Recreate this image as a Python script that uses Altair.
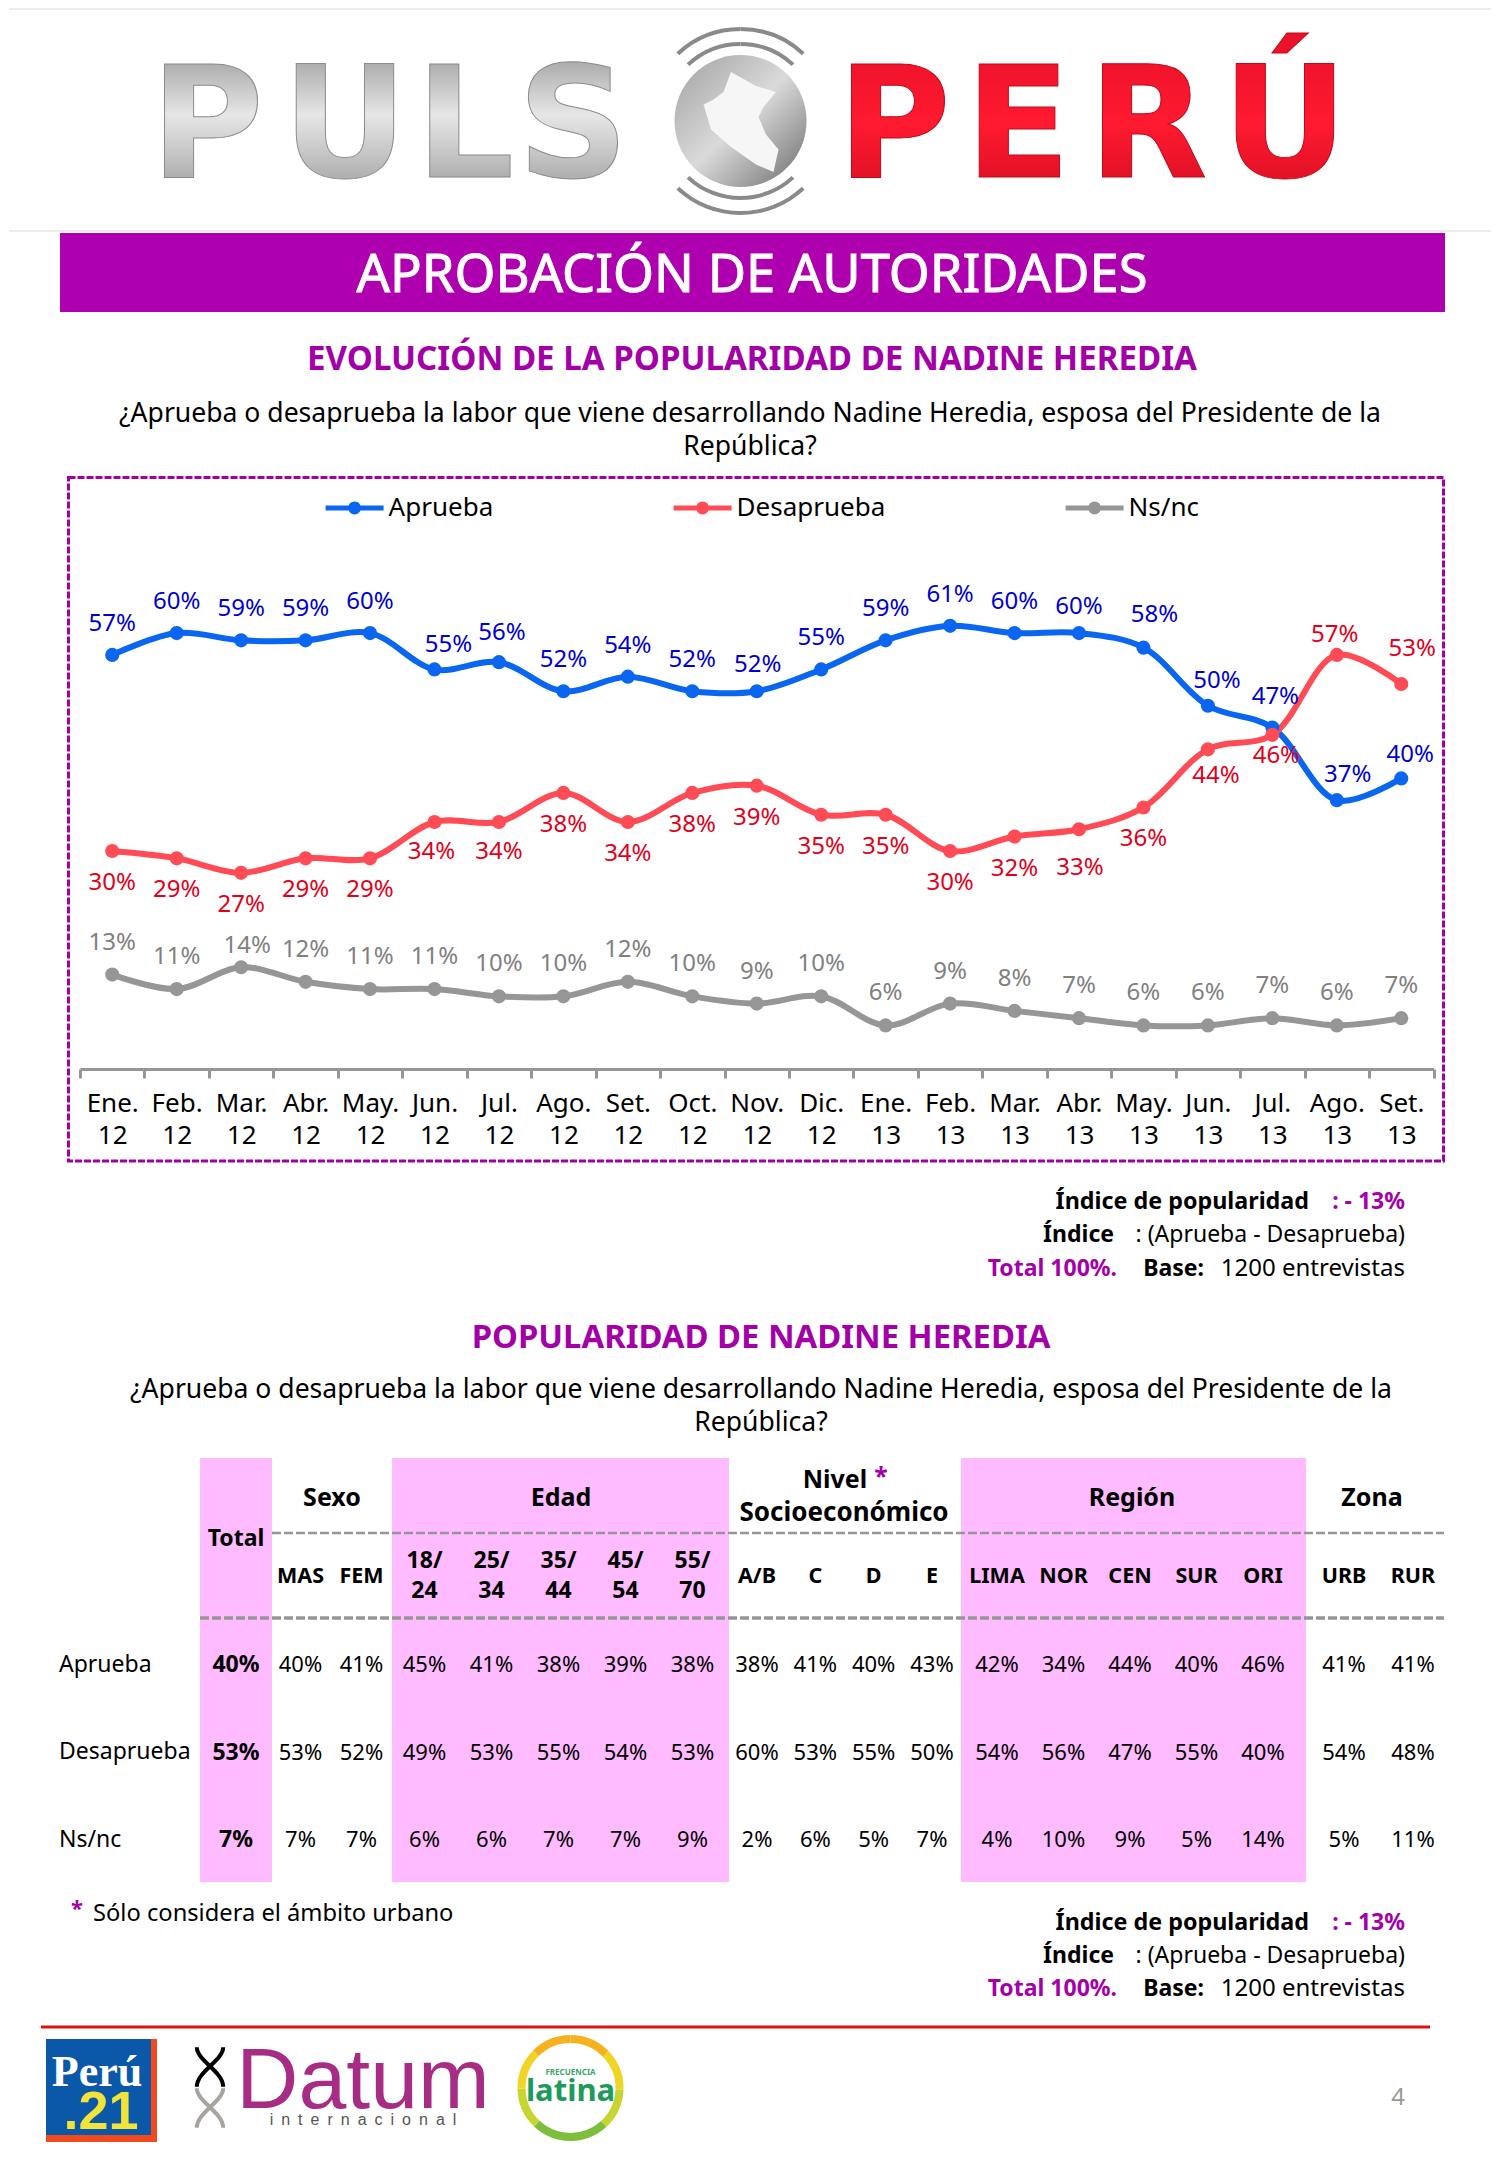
import altair as alt
import pandas as pd

FONT = "Noto Sans"
PURPLE = "#AE00AE"
TITLE_PURPLE = "#A400A8"
PINK = "#FFBBFF"
GREY = "#969696"

# ---- data -------------------------------------------------------------
MONTHS = ["Ene. 12", "Feb. 12", "Mar. 12", "Abr. 12", "May. 12", "Jun. 12", "Jul. 12",
          "Ago. 12", "Set. 12", "Oct. 12", "Nov. 12", "Dic. 12", "Ene. 13", "Feb. 13",
          "Mar. 13", "Abr. 13", "May. 13", "Jun. 13", "Jul. 13", "Ago. 13", "Set. 13"]
APRUEBA = [57, 60, 59, 59, 60, 55, 56, 52, 54, 52, 52, 55, 59, 61, 60, 60, 58, 50, 47, 37, 40]
DESAPRUEBA = [30, 29, 27, 29, 29, 34, 34, 38, 34, 38, 39, 35, 35, 30, 32, 33, 36, 44, 46, 57, 53]
NSNC = [13, 11, 14, 12, 11, 11, 10, 10, 12, 10, 9, 10, 6, 9, 8, 7, 6, 6, 7, 6, 7]

ROWS = ["Aprueba", "Desaprueba", "Ns/nc"]
TOTAL = {"Total": [40, 53, 7]}
SEXO = {"MAS": [40, 53, 7], "FEM": [41, 52, 7]}
EDAD = {"18/ 24": [45, 49, 6], "25/ 34": [41, 53, 6], "35/ 44": [38, 55, 7],
        "45/ 54": [39, 54, 7], "55/ 70": [38, 53, 9]}
NSE = {"A/B": [38, 60, 2], "C": [41, 53, 6], "D": [40, 55, 5], "E": [43, 50, 7]}
REGION = {"LIMA": [42, 54, 4], "NOR": [34, 56, 10], "CEN": [44, 47, 9],
          "SUR": [40, 55, 5], "ORI": [46, 40, 14]}
ZONA = {"URB": [41, 54, 5], "RUR": [41, 48, 11]}

# ---- label placement (separate from the values) ------------------------
SERIES_STYLE = {
    "Aprueba": dict(values=APRUEBA, line="#0A66F0", text="#0000D2", dy=-31,
                    nudge={5: (14, -24), 6: (3, -29), 10: (1, -26), 15: (0, -26), 16: (11, -33),
                           17: (9, -25), 18: (3, -31), 19: (11, -25), 20: (9, -23)}),
    "Desaprueba": dict(values=DESAPRUEBA, line="#FF4B55", text="#E2001A", dy=32,
                       nudge={5: (-3, 30), 6: (0, 30), 15: (1, 39), 17: (8, 27), 18: (4, 21),
                              19: (-2, -20), 20: (11, -35)}),
    "Ns/nc": dict(values=NSNC, line=GREY, text="#808080", dy=-32, nudge={2: (6, -21)}),
}

one = pd.DataFrame({"k": [0]})
OX, OY = 8, 8


def T(s, x, y, size=22, color="black", align="center", bold=False, font=FONT, fill=None, stroke=None):
    kw = dict(fontSize=size, align=align, baseline="middle", font=font,
              fontWeight="bold" if bold else "normal", color=fill if fill else color)
    if stroke:
        kw.update(stroke=stroke, strokeWidth=1)
    return alt.Chart(one).mark_text(**kw).encode(
        x=alt.value(x - OX), y=alt.value(y - OY), text=alt.value(s))


def R(x0, y0, x1, y1, fill):
    return alt.Chart(one).mark_rect(color=fill).encode(
        x=alt.value(x0 - OX), x2=alt.value(x1 - OX), y=alt.value(y0 - OY), y2=alt.value(y1 - OY))


def H(x0, x1, y, color, width=2, dash=None):
    kw = dict(color=color, strokeWidth=width)
    if dash:
        kw["strokeDash"] = dash
    return alt.Chart(one).mark_rule(**kw).encode(
        x=alt.value(x0 - OX), x2=alt.value(x1 - OX), y=alt.value(y - OY))


def P(path, x, y, span, fill=None, stroke=None, width=0):
    kw = dict(shape=path, size=span * span, opacity=1)
    if fill:
        kw.update(filled=True, color=fill)
    else:
        kw.update(filled=False, color=stroke, strokeWidth=width)
    return alt.Chart(one).mark_point(**kw).encode(x=alt.value(x - OX), y=alt.value(y - OY))


def A(x, y, r0, r1, t0, t1, color):
    return alt.Chart(one).mark_arc(radius=r1, radius2=r0, theta=t0, theta2=t1, color=color).encode(
        x=alt.value(x - OX), y=alt.value(y - OY))


TAU = 6.28318

# ---- page top ----------------------------------------------------------
silver = alt.LinearGradient(gradient="linear", x1=0, y1=0, x2=0, y2=1, stops=[
    alt.GradientStop(offset=0, color="#8C8C8C"), alt.GradientStop(offset=0.45, color="#E6E6E6"),
    alt.GradientStop(offset=0.6, color="#D0D0D0"), alt.GradientStop(offset=1, color="#8E8E8E")])
redg = alt.LinearGradient(gradient="linear", x1=0, y1=0, x2=0, y2=1, stops=[
    alt.GradientStop(offset=0, color="#E8102A"), alt.GradientStop(offset=0.5, color="#FF1A30"),
    alt.GradientStop(offset=1, color="#D00C20")])
sphere = alt.LinearGradient(gradient="linear", x1=0, y1=0, x2=1, y2=1, stops=[
    alt.GradientStop(offset=0, color="#A0A0A0"), alt.GradientStop(offset=0.5, color="#DADADA"),
    alt.GradientStop(offset=1, color="#6A6A6A")])
PERU = ("M-0.2,-1 L0.3,-0.72 L0.7,-0.6 L0.45,-0.3 L0.35,-0.1 L0.5,0.25 L0.75,0.55 L0.65,1 "
        "L0.3,0.85 L-0.2,0.5 L-0.6,0.15 L-0.75,-0.35 L-0.55,-0.45 L-0.35,-0.6 Z")
CIRCLE = "M1,0 A1,1 0 1,1 -1,0 A1,1 0 1,1 1,0 Z"

top_layers = [
    H(8, 1490, 9, "#E6E6E6", 1.5), H(8, 1490, 231, "#E6E6E6", 1.5),
]
for ch, cx, f, edge in [("P", 206, silver, "#8C8C8C"), ("U", 344, silver, "#8C8C8C"), ("L", 464, silver, "#8C8C8C"),
                        ("S", 572, silver, "#8C8C8C"), ("P", 893, redg, "#C00A1C"), ("E", 1017, redg, "#C00A1C"),
                        ("R", 1147, redg, "#C00A1C"), ("Ú", 1284, redg, "#C00A1C")]:
    top_layers.append(T(ch, cx, 130, size=155, bold=True, fill=f, font="DejaVu Sans", stroke=edge))
top_layers += [
    P(CIRCLE, 739.5, 121, 132, fill=sphere),
    P(PERU, 740, 122, 100, fill="#F6F6F6"),
]
for r0, r1 in [(75, 79), (90, 94)]:
    top_layers += [A(739.5, 121, r0, r1, TAU - 0.75, TAU, "#8A8A8A"), A(739.5, 121, r0, r1, 0, 0.75, "#8A8A8A"),
                   A(739.5, 121, r0, r1, 3.1416 - 0.75, 3.1416 + 0.75, "#8A8A8A")]
top_layers += [
    R(59, 233, 1444, 312, PURPLE),
    T("APROBACIÓN DE AUTORIDADES", 751, 275.5, size=52.5, color="white", stroke="white"),
    T("EVOLUCIÓN DE LA POPULARIDAD DE NADINE HEREDIA", 751, 360, size=33.1, color=TITLE_PURPLE, bold=True),
    T("¿Aprueba o desaprueba la labor que viene desarrollando Nadine Heredia, esposa del Presidente de la",
      749, 414, size=26.55),
    T("República?", 749, 447, size=26.55),
]
panel_top = alt.layer(*top_layers).properties(width=1440, height=462)

# ---- line chart --------------------------------------------------------
records = []
for name, st in SERIES_STYLE.items():
    for i, (m, v) in enumerate(zip(MONTHS, st["values"])):
        dx, dy = st["nudge"].get(i, (0, st["dy"]))
        records.append(dict(serie=name, mes=m, valor=v, etiqueta=f"{v}%", dx=dx, dy=dy))
df = pd.DataFrame(records)

x_scale = alt.Scale(type="band", domain=MONTHS, range=[71, 1424.5], paddingInner=0, paddingOuter=0)
y_scale = alt.Scale(domain=[0, 82.45], nice=False)
names = list(SERIES_STYLE)
colors = [SERIES_STYLE[n]["line"] for n in names]
x_axis = alt.Axis(
    labelExpr="split(datum.label, ' ')", labelAngle=0, labelFont=FONT, labelFontSize=26,
    labelColor="black", labelLineHeight=32, labelPadding=12, labelOverlap=False, labelFlush=False,
    domainColor=GREY, domainWidth=3, tickColor=GREY, tickWidth=3, tickSize=9, tickBand="extent",
    grid=False)
x_enc = alt.X("mes:N", scale=x_scale, sort=None, title=None, axis=x_axis)
y_enc = alt.Y("valor:Q", scale=y_scale, axis=None)

frame = alt.Chart(one).mark_rect(fillOpacity=0, stroke="#A400A0", strokeWidth=3, strokeDash=[7, 2]).encode(
    x=alt.value(59.5), x2=alt.value(1434.5), y=alt.value(7.5), y2=alt.value(691))

legend = alt.Legend(orient="none", legendX=316.6, legendY=471, direction="horizontal", columns=3,
                    title=None, gridAlign="each", columnPadding=180, labelFont=FONT, labelFontSize=26,
                    labelColor="black", labelOffset=5, symbolStrokeWidth=0, symbolSize=3364,
                    symbolType="M-1,-0.09 L1,-0.09 L1,0.09 L-1,0.09 Z M0.22,0 A0.22,0.22 0 1,1 -0.22,0 A0.22,0.22 0 1,1 0.22,0 Z")

line_layers = [frame]
for n in ["Ns/nc", "Aprueba", "Desaprueba"]:
    sub = df[df.serie == n]
    line_layers.append(alt.Chart(sub).mark_line(
        interpolate="catmull-rom", strokeWidth=6, color=SERIES_STYLE[n]["line"]
    ).encode(x=x_enc, y=y_enc))
pts = alt.Chart(df).mark_point(filled=True, size=200, opacity=1).encode(
    x=x_enc, y=y_enc,
    fill=alt.Fill("serie:N", scale=alt.Scale(domain=names, range=colors), legend=legend))
line_layers.append(pts)

for n, st in SERIES_STYLE.items():
    sub = df[df.serie == n]
    for (dx, dy), g in sub.groupby(["dx", "dy"]):
        line_layers.append(alt.Chart(g).mark_text(
            dx=int(dx), dy=int(dy), font=FONT, fontSize=24, color=st["text"], baseline="middle", align="center"
        ).encode(x=x_enc, y=y_enc, text="etiqueta:N"))

panel_line = alt.layer(*line_layers).properties(width=1440, height=599)

# ---- bottom: notes + table + footer ------------------------------------
OY = 1069


def notes(y1, y2, y3):
    return [
        T("Índice de popularidad", 1308, y1, size=23.3, bold=True, align="right"),
        T(":  - 13%", 1404, y1, size=23, bold=True, color=TITLE_PURPLE, align="right"),
        T("Índice", 1113, y2, size=23, bold=True, align="right"),
        T(": (Aprueba - Desaprueba)", 1404, y2, size=23, align="right"),
        T("Total 100%.", 1116, y3, size=23, bold=True, color=TITLE_PURPLE, align="right"),
        T("Base:", 1203, y3, size=23, bold=True, align="right"),
        T("1200 entrevistas", 1404, y3, size=24, align="right"),
    ]


bottom = notes(1202, 1235, 1269) + [
    T("POPULARIDAD DE NADINE HEREDIA", 760, 1338, size=32.8, color=TITLE_PURPLE, bold=True),
    T("¿Aprueba o desaprueba la labor que viene desarrollando Nadine Heredia, esposa del Presidente de la",
      760, 1390, size=26.55),
    T("República?", 760, 1423, size=26.55),
    R(199, 1458, 271, 1882, PINK), R(391, 1458, 728, 1882, PINK), R(960, 1458, 1305, 1882, PINK),
    H(271, 1443, 1533, GREY, 2.5, [9, 3]),
    H(199, 1443, 1618, GREY, 3.5, [9, 3]),
    T("Total", 235, 1539, size=23, bold=True),
    T("Sexo", 331, 1498, size=25, bold=True),
    T("Edad", 560, 1498, size=25, bold=True),
    T("Nivel", 834, 1480, size=25, bold=True),
    T("*", 880, 1477, size=25, bold=True, color=TITLE_PURPLE),
    T("Socioeconómico", 843, 1513, size=26, bold=True),
    T("Región", 1131, 1498, size=25, bold=True),
    T("Zona", 1371, 1498, size=25, bold=True),
]
for lab, yy in zip(ROWS, [1665, 1752, 1840]):
    bottom.append(T(lab, 58, yy, size=23, align="left"))

row_range = [1665 - OY, 1840 - OY]
for group, (a, b), two_line in [(SEXO, (299.5, 360.5), False), (EDAD, (423.5, 691.5), True),
                                (NSE, (756, 931), False), (REGION, (996, 1262), False),
                                (ZONA, (1343, 1412), False), (TOTAL, (235, 235), False)]:
    cols = list(group)
    long_df = pd.DataFrame([
        dict(col=c, fila=r, txt=f"{v}%") for c in cols for r, v in zip(ROWS, group[c])])
    xs = alt.Scale(type="point", domain=cols, range=[a - OX, b - OX], padding=0)
    ys = alt.Scale(type="point", domain=ROWS, range=row_range, padding=0)
    is_total = group is TOTAL
    bottom.append(alt.Chart(long_df).mark_text(
        font=FONT, fontSize=23 if is_total else 22, fontWeight="bold" if is_total else "normal",
        color="black", baseline="middle", align="center"
    ).encode(x=alt.X("col:N", scale=xs, axis=None, sort=None),
             y=alt.Y("fila:N", scale=ys, axis=None, sort=None), text="txt:N"))
    if not is_total:
        head = pd.DataFrame({"col": cols})
        bottom.append(alt.Chart(head).transform_calculate(lab="split(datum.col, ' ')").mark_text(
            font=FONT, fontSize=23 if two_line else 21.5, fontWeight="bold", color="black",
            baseline="middle", align="center", lineHeight=30
        ).encode(x=alt.X("col:N", scale=xs, axis=None, sort=None),
                 y=alt.value((1561 if two_line else 1576.5) - OY), text="lab:N"))

bottom += [T("*", 76, 1909, size=22, bold=True, color=TITLE_PURPLE),
           T("Sólo considera el ámbito urbano", 92, 1914, size=23.7, align="left")]
bottom += notes(1923, 1956, 1989)
bottom.append(H(40, 1429, 2027, "#E01010", 3))

# footer logos
sp = "\u2002"
bottom += [
    R(45, 2039, 156, 2142, "#0B57A8"), R(150, 2039, 156, 2142, "#F04A1E"), R(45, 2135, 156, 2142, "#F04A1E"),
    T("Perú", 96, 2073, size=44, bold=True, color="white", font="Liberation Serif"),
    T(".21", 100, 2113, size=54, bold=True, color="#F2E33B", font="Liberation Sans"),
    P("M-0.6,-0.9 C-0.6,-0.3 0.6,0.2 0.6,0.9 M0.6,-0.9 C0.6,-0.3 -0.6,0.2 -0.6,0.9", 209, 2067, 44, stroke="black", width=4),
    P("M-0.6,-0.9 C-0.6,-0.3 0.6,0.2 0.6,0.9 M0.6,-0.9 C0.6,-0.3 -0.6,0.2 -0.6,0.9", 209, 2108, 44, stroke="#A8A39D", width=4),
    T("Datum", 362, 2082, size=86, color="#A62C84", font="Liberation Sans"),
    T(sp.join("internacional"), 362, 2120, size=16, color="#555555", font="Liberation Sans"),
]
for t0, t1, c in [(0, 0.8, "#F5B21E"), (0.8, 1.6, "#F0D526"), (1.6, 2.4, "#C6D530"), (2.4, 3.9, "#7DBE3C"),
                  (3.9, 4.7, "#C6D530"), (4.7, 5.5, "#F0D526"), (5.5, 6.2832, "#F5B21E")]:
    bottom.append(A(569.5, 2088, 45, 53, t0, t1, c))
bottom += [
    T("FRECUENCIA", 569.5, 2073, size=8, color="#3DA56A", bold=True),
    T("latina", 569.5, 2092, size=31, color="#1E9B5A", bold=True),
    T("4", 1397, 2098, size=24, color="#9A9A9A"),
]
panel_bottom = alt.layer(*bottom).resolve_scale(x="independent", y="independent").properties(width=1440, height=1078)

chart = alt.vconcat(panel_top, panel_line, panel_bottom, spacing=0, bounds="flush").properties(
    padding=0, background="white").configure_view(stroke=None).configure_legend(padding=0)
chart.save("out.html", embed_options={"renderer": "svg", "actions": False})
